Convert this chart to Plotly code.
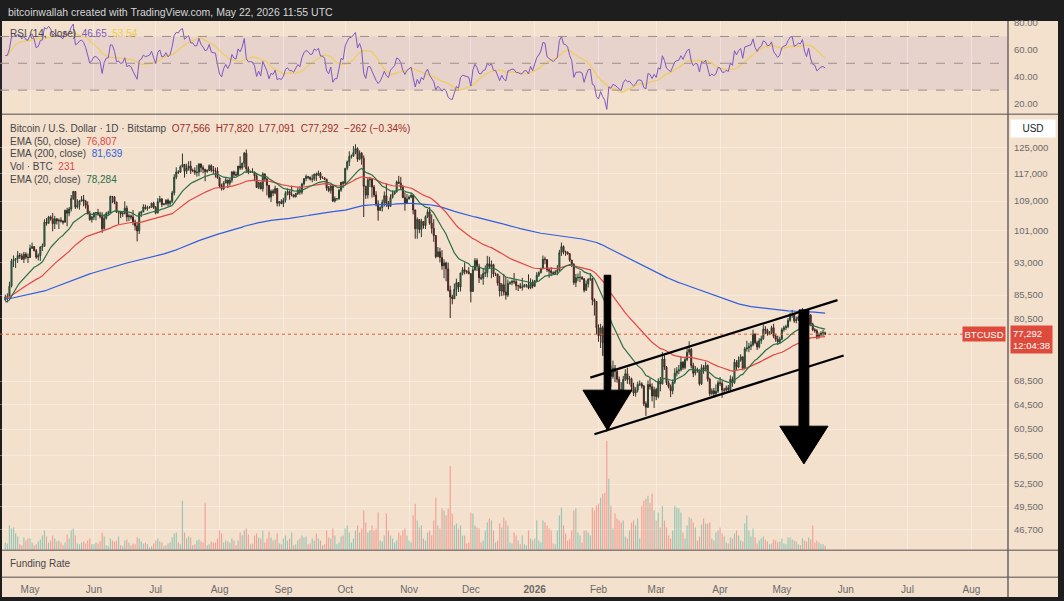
import numpy as np
import pandas as pd
import plotly.graph_objects as go

# BTCUSD daily candles (Bitstamp), thousands of USD
start_date = "2025-04-19"
prev_close_k = 84.5

close_k = [
    85.1, 85.2, 87.5, 93.4, 93.7, 93.9, 94.7, 94.6, 93.8, 95.0, 94.3, 94.2,  # Apr 25
    96.5, 96.9, 95.9, 94.3, 94.7, 96.8, 97.0, 103.2, 102.9, 104.6, 104.1, 102.8, 104.1, 103.5, 103.7, 103.5,
    103.2, 106.4, 105.6, 106.8, 109.7, 111.7, 107.3, 107.8, 109.0, 109.4, 108.9, 107.8, 105.6, 103.9, 104.6,
    105.7, 105.8, 105.4, 104.7, 101.5, 104.3, 105.6, 105.7, 110.3, 110.2, 108.7, 105.9, 106.1, 105.4, 105.6,
    107.0, 104.6, 104.9, 104.6, 103.3, 102.2, 100.9, 105.6, 106.0, 107.3, 106.9, 107.1, 107.3, 108.4, 107.2,
    105.7, 108.8, 109.6, 108.0, 108.2, 109.2, 108.3, 108.9, 111.3, 115.9, 117.5, 117.4, 119.1, 119.8, 117.7,
    118.7, 119.3, 117.9, 117.9, 117.3, 117.4, 119.9, 118.8, 118.3, 117.6, 117.9, 119.4, 118.0, 117.9, 117.8, 115.7,
    113.3, 112.5, 114.2, 115.1, 114.1, 115.0, 117.5, 116.7, 116.5, 119.3, 118.7, 120.2, 123.3, 118.4, 117.4,
    117.5, 117.4, 116.3, 112.9, 114.3, 112.5, 116.9, 115.4, 113.5, 110.1, 111.8, 111.3, 112.6, 108.4, 108.8, 108.3,
    109.2, 111.2, 111.7, 110.7, 110.7, 110.2, 111.1, 112.1, 111.5, 113.9, 115.5, 116.1, 115.9, 115.3, 115.4,
    116.8, 116.5, 117.1, 115.7, 115.7, 115.3, 112.7, 112.0, 113.3, 109.0, 109.7, 109.7, 112.1, 114.4, 114.1,
    118.6, 120.6, 122.3, 122.4, 123.5, 124.8, 121.4, 123.3, 121.7, 113.2, 110.7, 115.1, 115.3, 113.0, 110.7,
    108.2, 106.4, 107.2, 108.6, 110.5, 108.4, 107.5, 110.0, 111.0, 111.6, 114.5, 114.1, 112.9, 110.0, 108.3, 109.6,
    110.1, 110.6, 106.5, 101.5, 103.9, 101.3, 103.4, 102.3, 104.7, 106.0, 103.0, 101.6, 99.7, 94.4, 95.6,
    94.2, 92.2, 92.9, 91.5, 86.6, 85.1, 84.7, 86.8, 88.3, 87.3, 90.5, 91.3, 90.9, 90.8, 90.4,
    86.3, 91.3, 93.5, 92.1, 89.4, 89.3, 90.4, 90.6, 92.7, 92.0, 92.5, 90.3, 90.3, 88.2, 86.4,
    87.8, 86.2, 85.5, 88.1, 88.3, 88.6, 88.5, 87.6, 87.6, 87.2, 87.3, 87.8, 87.8, 87.1, 88.4, 87.5,
    88.7, 90.0, 90.6, 91.5, 93.8, 93.7, 91.3, 91.0, 90.6, 90.4, 90.8, 91.2, 95.4, 96.9, 95.6,
    95.5, 95.1, 93.6, 92.6, 88.3, 89.4, 89.5, 89.5, 89.2, 86.6, 88.0, 89.1, 89.2, 84.5, 84.1, 78.6,
    77.0, 78.6, 75.6, 73.0, 62.9, 70.5, 69.3, 70.8, 70.2, 68.8, 67.0, 66.2, 68.8, 69.8,
    68.8, 68.9, 67.5, 66.4, 66.9, 67.9, 68.0, 67.6, 64.6, 64.0, 67.9, 67.5, 65.9, 67.0,
    65.8, 68.5, 68.0, 72.5, 71.0, 68.2, 67.5, 66.8, 68.3, 69.9, 70.3, 70.5, 71.9, 70.9, 72.4,
    73.8, 74.3, 71.3, 69.9, 70.6, 70.4, 68.0, 70.9, 70.6, 71.3, 68.8, 66.3, 66.8, 66.3, 66.7, 68.2,
    68.1, 66.9, 66.9, 67.3, 67.0, 68.8, 68.2, 71.9, 71.0, 72.3, 72.9, 70.8, 74.4, 74.6, 74.9,
    75.2, 77.3, 75.6, 74.8, 76.0, 76.4, 78.3, 78.1, 77.4, 77.6, 78.6, 76.9, 76.3, 75.8, 76.3,
    78.2, 78.6, 78.8, 80.1, 81.2, 81.4, 80.0, 80.3, 80.8, 80.7, 81.8,
    80.2, 79.3, 81.2, 79.3, 78.2, 78.0, 76.8, 77.2, 77.5, 77.566, 77.292,
]

high_k = [
    85.6, 85.9, 88.5, 93.9, 94.7, 94.0, 95.8, 95.3, 95.2, 95.6, 95.5, 95.2,
    97.4, 97.9, 96.9, 96.3, 95.2, 97.0, 97.7, 104.0, 104.3, 104.9, 105.0, 105.7, 104.9, 104.3, 104.2, 104.5,
    103.7, 106.6, 107.1, 107.3, 110.7, 111.9, 111.8, 109.5, 109.3, 110.4, 110.7, 109.3, 108.9, 106.3, 104.9,
    105.9, 105.9, 106.8, 106.0, 105.9, 105.4, 106.0, 106.3, 110.5, 110.4, 110.4, 108.8, 106.2, 106.2, 106.0,
    108.9, 107.7, 105.5, 105.2, 106.5, 103.9, 103.0, 106.1, 106.3, 108.1, 108.0, 107.7, 107.6, 108.5, 108.8,
    107.6, 109.8, 110.5, 109.8, 108.4, 109.5, 109.7, 109.2, 111.9, 116.8, 118.9, 118.0, 119.5, 123.2, 119.9,
    120.0, 120.8, 120.9, 118.5, 118.9, 119.6, 120.2, 120.1, 119.5, 118.4, 118.3, 119.8, 119.8, 119.3, 118.8, 118.9,
    116.1, 114.0, 114.7, 115.7, 115.1, 115.6, 117.7, 117.9, 117.6, 119.3, 122.3, 120.3, 123.7, 124.5, 119.2,
    117.9, 118.6, 117.6, 116.8, 114.6, 114.5, 117.4, 117.0, 115.6, 113.6, 112.3, 112.4, 113.4, 112.7, 108.9, 109.5,
    109.9, 111.8, 112.6, 112.0, 113.4, 110.9, 111.3, 112.9, 113.2, 114.3, 115.5, 116.7, 116.3, 116.1, 116.7,
    117.0, 117.3, 117.9, 117.5, 116.2, 115.9, 115.4, 113.3, 113.9, 113.5, 110.3, 109.8, 112.4, 114.5, 114.8,
    118.7, 121.0, 123.9, 122.9, 125.6, 126.2, 125.2, 124.2, 123.7, 122.6, 113.4, 115.8, 116.0, 115.6, 113.6,
    111.8, 109.2, 107.5, 109.4, 111.7, 114.0, 109.0, 110.9, 112.0, 111.9, 114.9, 116.3, 116.0, 113.6, 111.5, 111.0,
    110.6, 111.2, 110.8, 106.6, 104.5, 104.0, 104.1, 103.4, 105.0, 106.7, 107.3, 105.3, 104.0, 99.8, 96.8,
    96.6, 96.0, 93.8, 93.2, 93.0, 87.6, 85.6, 88.1, 89.2, 88.3, 90.6, 91.9, 93.0, 91.2, 91.9,
    90.4, 92.2, 94.1, 94.0, 92.7, 90.2, 91.7, 92.3, 94.6, 94.4, 93.5, 92.7, 90.6, 90.3, 89.9,
    88.2, 90.3, 89.5, 89.0, 88.6, 89.0, 90.5, 88.9, 87.8, 88.2, 89.4, 88.0, 88.0, 90.2, 89.3, 89.0,
    88.9, 90.7, 90.9, 91.8, 94.7, 94.4, 93.8, 91.6, 91.9, 90.9, 91.2, 92.4, 96.1, 97.9, 97.2,
    95.9, 95.7, 95.3, 93.6, 92.8, 90.3, 90.4, 91.0, 89.8, 89.3, 88.8, 89.3, 90.5, 89.4, 84.8, 84.2,
    79.3, 79.4, 79.0, 76.9, 73.5, 71.6, 71.3, 72.2, 71.4, 70.6, 69.3, 68.3, 69.4, 70.6,
    70.9, 69.4, 69.1, 68.2, 67.4, 68.4, 68.6, 68.3, 67.8, 65.0, 68.6, 69.0, 68.1, 67.5,
    67.3, 69.0, 69.2, 73.8, 73.2, 71.2, 68.6, 67.9, 68.8, 70.8, 71.0, 71.4, 73.0, 72.1, 72.9,
    74.6, 75.9, 74.6, 71.8, 71.2, 70.9, 70.6, 71.5, 71.4, 72.0, 71.5, 69.1, 67.2, 67.3, 67.9, 68.6,
    69.2, 68.5, 67.3, 67.7, 67.8, 69.5, 69.3, 72.5, 72.3, 73.0, 73.4, 73.0, 74.8, 76.0, 75.6,
    75.9, 78.2, 77.5, 76.0, 76.5, 77.0, 79.2, 78.9, 78.4, 77.9, 79.0, 79.4, 77.4, 77.0, 76.8,
    78.6, 79.0, 79.2, 80.6, 81.7, 82.3, 81.7, 80.9, 81.1, 81.2, 82.7,
    82.0, 81.0, 81.6, 81.4, 79.6, 78.5, 78.3, 77.6, 77.9, 78.2, 77.82,
]

low_k = [
    84.2, 83.9, 85.0, 87.2, 91.9, 91.7, 92.9, 93.9, 93.6, 92.9, 93.8, 92.9,
    94.1, 96.3, 95.7, 93.9, 93.5, 93.4, 95.8, 96.9, 102.3, 102.8, 103.6, 100.8, 101.4, 102.6, 101.4, 103.1,
    102.6, 103.1, 102.1, 104.8, 106.1, 109.3, 106.8, 106.9, 106.6, 108.9, 107.5, 106.9, 105.3, 103.6, 103.1,
    103.8, 103.7, 104.9, 104.2, 100.4, 101.3, 103.9, 105.1, 105.4, 108.4, 108.1, 105.7, 102.7, 104.3, 104.6,
    105.3, 103.4, 103.5, 103.9, 102.4, 101.0, 98.2, 100.1, 104.6, 105.9, 106.6, 106.3, 106.9, 107.1, 106.8,
    105.3, 105.6, 108.6, 107.3, 107.8, 107.8, 107.5, 107.5, 108.4, 110.6, 115.3, 116.9, 117.3, 118.9, 115.8,
    116.9, 117.9, 116.9, 117.4, 116.6, 116.1, 116.2, 117.4, 117.1, 114.7, 117.2, 117.8, 117.4, 116.9, 115.8, 115.5,
    112.7, 112.0, 112.1, 114.1, 112.7, 113.4, 114.3, 115.9, 116.3, 116.5, 118.1, 118.2, 118.9, 117.2, 116.8,
    117.2, 117.2, 114.7, 112.7, 112.4, 112.3, 111.7, 114.6, 110.6, 109.7, 108.7, 110.4, 110.9, 107.5, 107.5, 108.1,
    107.3, 108.6, 110.6, 109.4, 110.3, 110.0, 110.0, 110.7, 110.8, 110.9, 113.4, 114.7, 115.3, 114.9, 114.4,
    114.8, 114.8, 116.3, 115.1, 115.5, 115.2, 111.9, 111.5, 111.1, 108.7, 108.6, 109.1, 109.3, 111.6, 112.7,
    113.9, 118.0, 119.3, 121.6, 122.1, 123.0, 120.6, 121.1, 119.7, 104.6, 109.6, 109.7, 113.0, 110.0, 110.1,
    107.5, 103.6, 106.3, 106.1, 107.5, 107.4, 106.7, 107.5, 109.7, 110.8, 111.4, 113.9, 112.3, 109.8, 106.3, 108.2,
    109.4, 109.8, 105.3, 98.9, 98.9, 100.3, 99.3, 101.5, 101.4, 104.3, 102.5, 100.2, 98.1, 94.0, 94.5,
    93.0, 91.3, 89.3, 88.6, 86.3, 80.6, 83.5, 84.7, 85.3, 86.2, 86.3, 90.0, 90.2, 90.3, 90.2,
    83.9, 86.2, 91.0, 91.0, 88.2, 88.9, 87.8, 89.6, 89.5, 91.6, 89.3, 89.6, 89.8, 87.6, 85.2,
    85.3, 85.4, 84.5, 85.1, 87.8, 87.7, 88.0, 86.6, 86.4, 86.9, 86.5, 87.3, 87.2, 86.8, 86.8, 87.0,
    87.3, 88.5, 89.6, 90.4, 91.4, 92.6, 90.8, 89.4, 89.8, 90.1, 90.2, 90.0, 91.0, 94.6, 95.0,
    94.6, 94.9, 93.2, 91.9, 87.8, 87.3, 88.6, 88.4, 88.9, 86.1, 86.4, 87.2, 88.7, 83.3, 81.1, 77.3,
    75.8, 74.6, 73.1, 72.2, 60.1, 60.5, 67.5, 68.9, 68.3, 68.2, 65.8, 65.2, 65.9, 68.5,
    68.0, 67.9, 66.7, 65.9, 65.8, 66.5, 67.6, 67.2, 64.2, 62.6, 63.9, 67.0, 65.0, 63.9,
    65.2, 65.5, 66.7, 67.9, 70.5, 67.8, 67.2, 65.7, 66.2, 68.0, 69.3, 69.7, 70.2, 70.5, 70.6,
    72.1, 73.3, 70.8, 69.2, 69.5, 70.0, 67.7, 67.8, 69.8, 70.2, 68.4, 65.9, 66.0, 65.6, 65.8, 66.4,
    67.6, 65.6, 66.2, 66.7, 66.5, 66.8, 67.5, 68.0, 70.5, 70.8, 72.0, 70.4, 70.6, 73.9, 73.8,
    74.2, 74.9, 75.3, 74.2, 74.5, 75.4, 76.2, 77.3, 77.0, 77.1, 77.3, 76.5, 75.8, 75.2, 75.4,
    76.1, 77.8, 78.1, 78.5, 79.8, 80.6, 79.6, 79.5, 80.0, 80.2, 80.4,
    79.7, 78.8, 79.0, 78.9, 77.9, 77.6, 76.3, 76.4, 76.9, 76.9, 77.091,
]

volume_btc = [
    400, 350, 1250, 1100, 1150, 850, 700, 300, 250, 650, 500, 600,
    600, 400, 250, 300, 450, 550, 750, 1000, 700, 400, 500, 750, 600, 450, 500, 400,
    250, 400, 800, 600, 1000, 1100, 750, 350, 300, 400, 450, 350, 500, 600, 300,
    300, 400, 350, 450, 900, 700, 250, 200, 600, 500, 450, 500, 700, 250, 200,
    500, 550, 400, 250, 350, 300, 650, 600, 450, 350, 400, 300, 150, 200, 350,
    500, 600, 450, 400, 200, 250, 350, 400, 650, 850, 900, 400, 300, 2500, 900,
    600, 700, 650, 250, 300, 500, 550, 450, 400, 2400, 250, 300, 450, 400, 400, 600,
    1000, 850, 400, 500, 450, 400, 600, 500, 250, 500, 900, 750, 1000, 1100, 800,
    300, 350, 750, 850, 650, 600, 1000, 400, 600, 950, 650, 500, 550, 850, 350, 300,
    600, 750, 500, 600, 900, 250, 300, 500, 600, 750, 650, 700, 300, 350, 600,
    500, 850, 600, 500, 250, 300, 1000, 650, 600, 1100, 750, 300, 400, 700, 750,
    1100, 1250, 900, 400, 600, 1000, 1250, 900, 1100, 2000, 1400, 900, 1000, 1250, 1000,
    1100, 1900, 500, 450, 750, 1850, 1000, 750, 600, 400, 500, 900, 750, 1000, 1100, 750,
    500, 400, 1750, 2350, 1500, 1150, 1250, 600, 500, 900, 1000, 750, 1500, 2650, 1250,
    1100, 2100, 2000, 1750, 2100, 4250, 1850, 1250, 1350, 1100, 1250, 750, 750, 350, 400,
    1900, 1850, 1250, 1150, 1100, 400, 500, 1000, 1400, 1600, 1500, 1000, 400, 500, 1350,
    1150, 1650, 1500, 1250, 400, 350, 900, 750, 500, 300, 750, 300, 250, 1000, 600, 500,
    600, 1500, 500, 400, 1500, 1400, 1250, 1100, 1000, 350, 300, 1000, 1750, 2150, 1250,
    850, 500, 600, 1000, 2000, 2100, 900, 750, 400, 1000, 1000, 900, 750, 2150, 2000, 2250,
    2350, 2650, 2850, 2900, 5500, 3600, 2250, 1100, 1850, 1600, 1500, 1400, 1500, 700,
    600, 1000, 1400, 1500, 1250, 1600, 600, 2250, 2500, 2600, 2750, 2400, 2850, 2000,
    1500, 1900, 1150, 2250, 1500, 1150, 750, 600, 1000, 2250, 2150, 2100, 1900, 900, 600,
    1250, 1650, 1600, 1400, 1150, 500, 700, 1300, 1600, 1350, 1350, 1400, 600, 500, 900, 1000,
    1150, 850, 700, 400, 350, 650, 600, 850, 1000, 750, 500, 450, 1350, 1750, 1000,
    700, 1100, 650, 350, 500, 600, 700, 550, 450, 300, 350, 550, 500, 400, 450,
    600, 350, 300, 650, 650, 550, 500, 450, 300, 250, 600,
    500, 450, 650, 550, 1250, 400, 500, 400, 300, 300, 231,
]

# starting values of the indicators at the left edge of the chart
ema_seeds = {20: 83900, 50: 85000, 200: 84700}
rsi_seed_gain, rsi_seed_loss = 900, 750

price_ticks = [125000, 117000, 109000, 101000, 93000, 85500, 80500, 68500,
               64500, 60500, 56500, 52500, 49500, 46700]
month_ticks = pd.date_range("2025-05-01", "2026-08-01", freq="MS")
month_text = ["May", "Jun", "Jul", "Aug", "Sep", "Oct", "Nov", "Dec", "<b>2026</b>",
              "Feb", "Mar", "Apr", "May", "Jun", "Jul", "Aug"]

# hand-drawn channel and arrows
channel_upper = (["2026-01-28", "2026-05-28"], [69100, 84400])
channel_lower = (["2026-01-30", "2026-05-31"], [59700, 73150])
arrow_centers = ["2026-02-05 08:00", "2026-05-11 17:00"]
arrow_top = [90000, 82300]
arrow_neck = [66900, 60960]
arrow_tip = [60350, 55300]
arrow_shaft_days = [1.6, 2.4]
arrow_head_days = [11.9, 11.7]

n = len(close_k)
dates = pd.date_range(start_date, periods=n, freq="D")
close = np.array(close_k) * 1000
open_ = np.concatenate([[prev_close_k * 1000], close[:-1]])
high = np.maximum(np.array(high_k[:n]) * 1000, np.maximum(open_, close))
low = np.minimum(np.array(low_k[:n]) * 1000, np.minimum(open_, close))
volume = np.array(volume_btc[:n])


def ema(values, span, seed):
    a = 2 / (span + 1)
    out, e = [], seed
    for v in values:
        e = a * v + (1 - a) * e
        out.append(e)
    return out


ema20 = ema(close, 20, ema_seeds[20])
ema50 = ema(close, 50, ema_seeds[50])
ema200 = ema(close, 200, ema_seeds[200])

chg = close - open_
ag, al = rsi_seed_gain, rsi_seed_loss
rsi = []
for c in chg:
    ag = (ag * 13 + max(c, 0)) / 14
    al = (al * 13 + max(-c, 0)) / 14
    rsi.append(100 - 100 / (1 + ag / al))
rsi_ma = pd.Series(rsi).rolling(14, min_periods=1).mean()

W, H = 1064, 601
def px(x): return x / W
def py(y): return 1 - y / H

XR = px(1008)
BG = "#f3e0cd"
GRID = "rgba(255,255,255,0.35)"
x_range = ["2025-04-16 10:00", "2026-08-18 19:00"]
FONT = "Liberation Sans, Arial, sans-serif"

fig = go.Figure()

vol_colors = ["rgba(38,166,154,0.45)" if c >= o else "rgba(239,83,80,0.45)"
              for o, c in zip(open_, close)]
fig.add_trace(go.Bar(x=dates, y=volume, marker_color=vol_colors, marker_line_width=0,
                     xaxis="x", yaxis="y", hoverinfo="skip"))

fig.add_trace(go.Scatter(x=x_range, y=[close[-1], close[-1]], mode="lines",
                         line=dict(color="#e0603c", width=1, dash="dot"),
                         xaxis="x", yaxis="y3", hoverinfo="skip"))

fig.add_trace(go.Candlestick(x=dates, open=open_, high=high, low=low, close=close,
                             increasing=dict(fillcolor="#3f8f5f", line=dict(color="#24402f", width=1)),
                             decreasing=dict(fillcolor="#b0443a", line=dict(color="#3d2220", width=1)),
                             whiskerwidth=0, xaxis="x", yaxis="y3"))

for vals, col in [(ema200, "#2f5fe0"), (ema50, "#e04848"), (ema20, "#2b7048")]:
    fig.add_trace(go.Scatter(x=dates, y=vals, mode="lines", line=dict(color=col, width=1.2),
                             xaxis="x", yaxis="y3", hoverinfo="skip"))

for xs, ys in [channel_upper, channel_lower]:
    fig.add_trace(go.Scatter(x=pd.to_datetime(xs), y=ys, mode="lines",
                             line=dict(color="black", width=2.2), xaxis="x", yaxis="y3"))

for c, top, neck, tip, sw, hw in zip(arrow_centers, arrow_top, arrow_neck, arrow_tip,
                                     arrow_shaft_days, arrow_head_days):
    c = pd.Timestamp(c)
    s, h = pd.Timedelta(days=sw), pd.Timedelta(days=hw)
    xs = [c - s, c + s, c + s, c + h, c, c - h, c - s, c - s]
    ys = [top, top, neck, neck, tip, neck, neck, top]
    fig.add_trace(go.Scatter(x=xs, y=ys, mode="lines", fill="toself", fillcolor="black",
                             line=dict(color="black", width=1), xaxis="x", yaxis="y3"))

fig.add_trace(go.Scatter(x=dates, y=rsi_ma, mode="lines", line=dict(color="rgba(240,205,80,0.85)", width=1.3),
                         xaxis="x2", yaxis="y2", hoverinfo="skip"))
fig.add_trace(go.Scatter(x=dates, y=rsi, mode="lines", line=dict(color="#7e57c2", width=1),
                         xaxis="x2", yaxis="y2", hoverinfo="skip"))
fig.add_trace(go.Scatter(x=[dates[0]], y=[0.5], mode="markers", marker=dict(opacity=0),
                         xaxis="x3", yaxis="y4", hoverinfo="skip"))

xcommon = dict(domain=[0, XR], range=x_range, type="date", tickvals=month_ticks,
               showgrid=True, gridcolor=GRID, gridwidth=1, zeroline=False, showline=False)

shapes = [
    dict(type="rect", xref="paper", yref="paper", x0=px(2), x1=px(1058), y0=py(597), y1=py(17),
         fillcolor=BG, line_width=0, layer="below"),
    dict(type="rect", xref="paper", yref="y2", x0=0, x1=XR, y0=30, y1=70,
         fillcolor="rgba(126,87,194,0.10)", line_width=0, layer="below"),
]
for lvl in [70, 50, 30]:
    shapes.append(dict(type="line", xref="paper", yref="y2", x0=0, x1=XR, y0=lvl, y1=lvl,
                       line=dict(color="#9b8f8a", width=1, dash="dash")))
for yy in [111, 550, 577]:
    shapes.append(dict(type="line", xref="paper", yref="paper", x0=px(2), x1=px(1058),
                       y0=py(yy), y1=py(yy), line=dict(color="#8a7f78", width=1.5)))
shapes.append(dict(type="line", xref="paper", yref="paper", x0=XR, x1=XR, y0=py(597), y1=py(17),
                   line=dict(color="#5a5450", width=1.3)))

TXT = "#474747"
annotations = [
    dict(x=px(6), y=py(8.5), text="bitcoinwallah created with TradingView.com, May 22, 2026 11:55 UTC",
         font=dict(color="#d6d6d6", size=10.5)),
    dict(x=px(8), y=py(30),
         text="RSI (14, close)  <span style='color:#7e57c2'>46.65</span>  "
              "<span style='color:#f0cd50'>53.54</span>", font=dict(color=TXT, size=10)),
    dict(x=px(8), y=py(125),
         text="Bitcoin / U.S. Dollar · 1D · Bitstamp  <span style='color:#9a2f2a'>O77,566  H77,820  "
              "L77,091  C77,292  −262 (−0.34%)</span>", font=dict(color=TXT, size=10)),
    dict(x=px(8), y=py(138), text="EMA (50, close)  <span style='color:#e04848'>76,807</span>",
         font=dict(color=TXT, size=10)),
    dict(x=px(8), y=py(151), text="EMA (200, close)  <span style='color:#2f5fe0'>81,639</span>",
         font=dict(color=TXT, size=10)),
    dict(x=px(8), y=py(164), text="Vol · BTC  <span style='color:#e04848'>231</span>",
         font=dict(color=TXT, size=10)),
    dict(x=px(8), y=py(177), text="EMA (20, close)  <span style='color:#2b7048'>78,284</span>",
         font=dict(color=TXT, size=10)),
    dict(x=px(8), y=py(563), text="Funding Rate", font=dict(color=TXT, size=10)),
    dict(x=px(1033), y=py(125.5), xanchor="center", text="USD", bgcolor="white",
         borderpad=3, width=38, font=dict(color="#222", size=10)),
    dict(x=px(1010), xanchor="left", yref="y3", y=np.log10(close[-1]), yshift=-5,
         text="77,292<br>12:04:38", bgcolor="#de4a3b", borderpad=2, align="left",
         font=dict(color="white", size=9.5)),
    dict(x=px(1006), xanchor="right", yref="y3", y=np.log10(close[-1]),
         text="BTCUSD", bgcolor="#de4a3b", borderpad=1.5, font=dict(color="white", size=9.5)),
]
for a in annotations:
    a.setdefault("xref", "paper")
    a.setdefault("yref", "paper")
    a.setdefault("xanchor", "left")
    a.setdefault("yanchor", "middle")
    a.setdefault("showarrow", False)

fig.update_layout(
    width=W, height=H, margin=dict(l=0, r=0, t=0, b=0),
    paper_bgcolor="#1e1e1e", plot_bgcolor="rgba(0,0,0,0)",
    showlegend=False, bargap=0.45, font=dict(family=FONT, color="#6b6b6b", size=10),
    xaxis=dict(xcommon, anchor="y", showticklabels=False, rangeslider=dict(visible=False)),
    xaxis2=dict(xcommon, anchor="y2", showticklabels=False),
    xaxis3=dict(xcommon, anchor="y4", showticklabels=True, ticktext=month_text, ticks="",
                ticklabelstandoff=5, tickfont=dict(color="#6b6b6b", size=10), showgrid=False),
    yaxis=dict(domain=[py(550), py(112)], anchor="x", range=[0, 438 * 50], visible=False),
    yaxis3=dict(overlaying="y", anchor="x", side="right", type="log",
                range=[np.log10(44250), np.log10(136000)], tickvals=price_ticks,
                ticktext=[f"{v:,}" for v in price_ticks], ticks="", ticklabelstandoff=5,
                showgrid=True, gridcolor=GRID, zeroline=False, tickfont=dict(size=9.5)),
    yaxis2=dict(domain=[py(111), py(17)], anchor="x2", side="right", range=[12.0, 81.6],
                tickvals=[20, 40, 60, 80], ticktext=["20.00", "40.00", "60.00", "80.00"],
                ticks="", ticklabelstandoff=5, showgrid=False, zeroline=False, tickfont=dict(size=9.5)),
    yaxis4=dict(domain=[py(577), py(551)], anchor="x3", range=[0, 1], visible=False),
    shapes=shapes, annotations=annotations,
)

# the page has a default 8px body margin; drop it so the figure sits at the window corner
fig.write_html("out.html", config={"displayModeBar": False},
               post_script="document.body.style.margin='0';"
                           "document.body.style.background='#1e1e1e';")
